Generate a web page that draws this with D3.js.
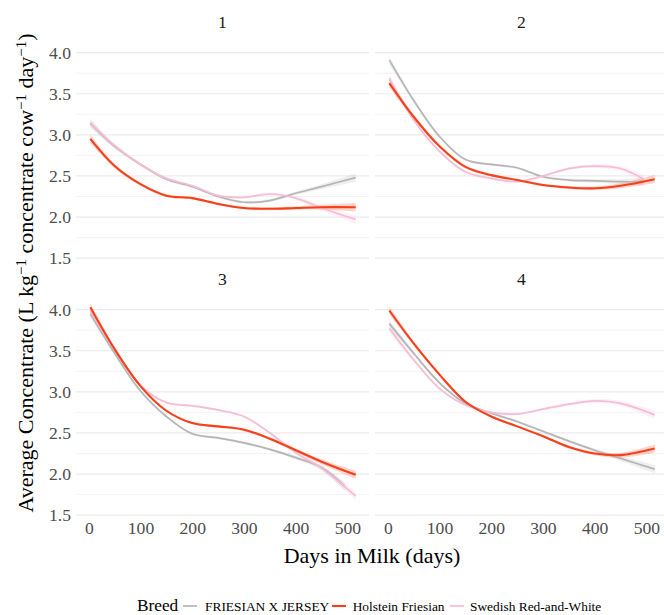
<!DOCTYPE html>
<html><head><meta charset="utf-8">
<script src="https://cdn.jsdelivr.net/npm/d3@7"></script>
<style>body{margin:0;background:#fff}svg{display:block}svg text{font-family:"Liberation Serif","Times New Roman",serif}</style>
</head><body><svg id="c" width="664" height="615"></svg>
<script>
// ---- data ----
const breeds = ["FRIESIAN X JERSEY", "Holstein Friesian", "Swedish Red-and-White"];
const colors = ["#b5b5b5", "#f5401a", "#f6bcd4"];
const panels = ["1", "2", "3", "4"];
const days = [3, 50, 100, 150, 200, 250, 300, 350, 400, 450, 516];
const daysShort = [3, 50, 100, 150, 200, 250, 300, 350, 400, 450, 495];
const yTicks = [1.5, 2.0, 2.5, 3.0, 3.5, 4.0];
const yMinor = [1.75, 2.25, 2.75, 3.25, 3.75];
const xTicks = [0, 100, 200, 300, 400, 500];
const bandHalf = [0.05, 0.025, 0.018, 0.016, 0.015, 0.015, 0.016, 0.018, 0.022, 0.03, 0.05];

// panel 1
const p1_fxj = [3.14, 2.86, 2.64, 2.46, 2.37, 2.25, 2.18, 2.20, 2.29, 2.37, 2.48];
const p1_hf  = [2.95, 2.62, 2.40, 2.26, 2.23, 2.16, 2.11, 2.10, 2.11, 2.12, 2.12];
const p1_srw = [3.15, 2.87, 2.64, 2.47, 2.38, 2.26, 2.24, 2.28, 2.23, 2.11, 1.97];
// panel 2
const p2_fxj = [3.91, 3.42, 2.98, 2.70, 2.64, 2.60, 2.49, 2.45, 2.44, 2.43, 2.43];
const p2_hf  = [3.63, 3.22, 2.86, 2.61, 2.51, 2.45, 2.39, 2.36, 2.35, 2.38, 2.46];
const p2_srw = [3.69, 3.18, 2.80, 2.55, 2.47, 2.43, 2.50, 2.59, 2.62, 2.59, 2.46];
// panel 3
const p3_fxj = [3.95, 3.47, 3.01, 2.70, 2.49, 2.44, 2.38, 2.30, 2.20, 2.08, 1.85];
const p3_hf  = [4.03, 3.52, 3.07, 2.77, 2.62, 2.58, 2.54, 2.43, 2.29, 2.15, 1.99];
const p3_srw = [3.98, 3.51, 3.08, 2.87, 2.83, 2.78, 2.70, 2.50, 2.26, 2.07, 1.73];
// panel 4
const p4_fxj = [3.83, 3.47, 3.11, 2.86, 2.74, 2.64, 2.52, 2.40, 2.29, 2.19, 2.06];
const p4_hf  = [3.99, 3.59, 3.21, 2.88, 2.70, 2.58, 2.46, 2.33, 2.25, 2.23, 2.31];
const p4_srw = [3.77, 3.39, 3.04, 2.84, 2.75, 2.73, 2.79, 2.85, 2.89, 2.86, 2.72];

const series = [
  [p1_fxj, p1_hf, p1_srw],
  [p2_fxj, p2_hf, p2_srw],
  [p3_fxj, p3_hf, p3_srw],
  [p4_fxj, p4_hf, p4_srw]
];
const seriesDays = [
  [days, days, days],
  [daysShort, days, daysShort],
  [daysShort, days, days],
  [days, days, days]
];

// ---- layout ----
const FONT = '"Liberation Serif", "Times New Roman", serif';
const svg = d3.select("#c");
const colX = [76, 375], pw = 293;
const rowY = [42.4, 299.4], ph = 226;
const x = d3.scaleLinear().domain([-24.7, 541.7]);
const yDomain = [1.375, 4.125];
const drawOrder = [0, 2, 1];

panels.forEach((lab, i) => {
  const c = i % 2, r = Math.floor(i / 2);
  const xs = x.copy().range([colX[c], colX[c] + pw]);
  const ys = d3.scaleLinear().domain(yDomain).range([rowY[r] + ph, rowY[r]]);
  const g = svg.append("g");
  const xr = Math.min(colX[c] + pw, 664);
  g.selectAll(".mn").data(yMinor).join("line")
    .attr("x1", colX[c]).attr("x2", xr)
    .attr("y1", d => ys(d)).attr("y2", d => ys(d))
    .attr("stroke", "#ebebeb").attr("stroke-width", 0.6);
  g.selectAll(".mj").data(yTicks).join("line")
    .attr("x1", colX[c]).attr("x2", xr)
    .attr("y1", d => ys(d)).attr("y2", d => ys(d))
    .attr("stroke", "#ebebeb").attr("stroke-width", 1.2);
  svg.append("text").attr("x", colX[c] + pw / 2).attr("y", rowY[r] - 20.5)
    .attr("text-anchor", "middle").attr("dominant-baseline", "central")
    .attr("font-size", 17.6).attr("fill", "#1a1a1a").attr("font-family", FONT).text(lab);
  drawOrder.forEach(k => {
    const vals = series[i][k], dd = seriesDays[i][k];
    const pts = vals.map((v, j) => ({x: dd[j], y: v, h: bandHalf[j]}));
    const area = d3.area().curve(d3.curveCatmullRom.alpha(0.5))
      .x(d => xs(d.x)).y0(d => ys(d.y - d.h)).y1(d => ys(d.y + d.h));
    g.append("path").datum(pts).attr("d", area)
      .attr("fill", colors[k]).attr("opacity", 0.22);
  });
  drawOrder.forEach(k => {
    const vals = series[i][k], dd = seriesDays[i][k];
    const pts = vals.map((v, j) => ({x: dd[j], y: v}));
    const line = d3.line().curve(d3.curveCatmullRom.alpha(0.5))
      .x(d => xs(d.x)).y(d => ys(d.y));
    g.append("path").datum(pts).attr("d", line)
      .attr("fill", "none").attr("stroke", colors[k])
      .attr("stroke-width", k === 1 ? 2.1 : 1.7);
  });
  if (c === 0) {
    const ax = d3.axisLeft(ys).tickValues(yTicks).tickFormat(d3.format(".1f")).tickSize(0).tickPadding(5);
    const a = svg.append("g").attr("transform", `translate(${colX[c]},0)`).call(ax)
      .attr("font-family", FONT);
    a.select(".domain").remove();
    a.selectAll("text").attr("font-size", 17.6).attr("fill", "#4d4d4d").attr("font-family", FONT);
  }
  if (r === 1) {
    const ax = d3.axisBottom(xs).tickValues(xTicks).tickFormat(d3.format("d")).tickSize(0).tickPadding(0);
    const a = svg.append("g").attr("transform", `translate(0,${rowY[r] + ph})`).call(ax)
      .attr("font-family", FONT);
    a.select(".domain").remove();
    a.selectAll("text").attr("font-size", 17.6).attr("fill", "#4d4d4d")
      .attr("font-family", FONT).attr("dy", null).attr("y", 0)
      .attr("dominant-baseline", "central").attr("transform", "translate(0,3)");
  }
});

svg.append("text").attr("x", 372).attr("y", 563).attr("text-anchor", "middle")
  .attr("font-size", 22).attr("fill", "#000").attr("font-family", FONT).text("Days in Milk (days)");
const yt = svg.append("text").attr("transform", "translate(33,273) rotate(-90)")
  .attr("text-anchor", "middle").attr("font-size", 22).attr("fill", "#000").attr("font-family", FONT);
const parts = [["Average Concentrate (L kg", false], ["−1", true], [" concentrate cow", false], ["−1", true], [" day", false], ["−1", true], [")", false]];
parts.forEach(([t, sup]) => {
  const ts = yt.append("tspan").text(t);
  if (sup) ts.attr("font-size", 15).attr("baseline-shift", "7");
});

const lg = svg.append("g").attr("font-family", FONT);
lg.append("text").attr("x", 137).attr("y", 611).attr("font-size", 17.3).attr("fill", "#000").text("Breed");
const keyX = [183, 332, 450], txtX = [205, 352.7, 470];
breeds.forEach((b, k) => {
  lg.append("line").attr("x1", keyX[k]).attr("x2", keyX[k] + 14).attr("y1", 606).attr("y2", 606)
    .attr("stroke", colors[k]).attr("stroke-width", k === 1 ? 2.1 : 1.7);
  lg.append("text").attr("x", txtX[k]).attr("y", 610.5).attr("font-size", 13.4).attr("fill", "#000").text(b);
});
</script></body></html>
